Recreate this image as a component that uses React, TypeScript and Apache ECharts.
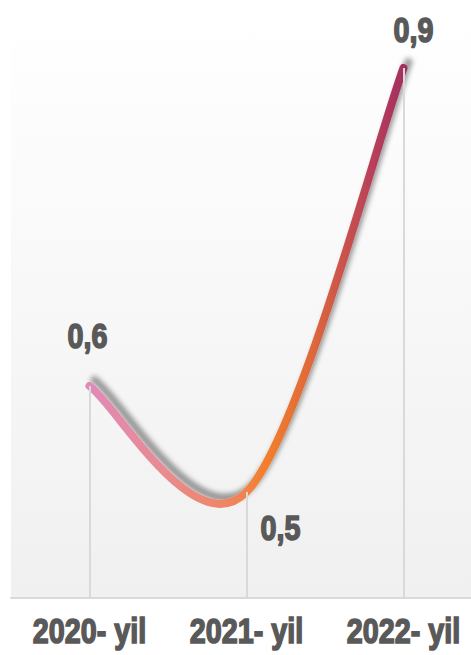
import React, { useEffect, useRef } from "react";
import * as echarts from "echarts";

const categories = ["2020- yil", "2021- yil", "2022- yil"];
const values = [0.6, 0.5, 0.9];
const labelOffsets: [number, number][] = [[-2, -50], [34, 36], [10, -38]];
const yMin = 0.4;
const yMax = 0.95;

export default function App() {
  const ref = useRef<HTMLDivElement>(null);
  useEffect(() => {
    if (!ref.current) return;
    const chart = echarts.init(ref.current, null, { renderer: "svg" });
    const font = "'Liberation Sans', Arial, sans-serif";
    const textColor = "#595959";

    const renderCurve = (params: any, api: any) => {
      if (params.dataIndex !== 0) return null;
      const pts = values.map((v, i) => api.coord([i, v]) as number[]);
      const n = pts.length;
      let d = `M${pts[0][0]},${pts[0][1]}`;
      for (let i = 0; i < n - 1; i++) {
        const p0 = pts[Math.max(i - 1, 0)];
        const p1 = pts[i];
        const p2 = pts[i + 1];
        const p3 = pts[Math.min(i + 2, n - 1)];
        const c1x = p1[0] + (p2[0] - p0[0]) / 6;
        const c1y = p1[1] + (p2[1] - p0[1]) / 6;
        const c2x = p2[0] - (p3[0] - p1[0]) / 6;
        const c2y = p2[1] - (p3[1] - p1[1]) / 6;
        d += ` C${c1x},${c1y} ${c2x},${c2y} ${p2[0]},${p2[1]}`;
      }
      return {
        type: "path",
        shape: { pathData: d },
        style: {
          fill: "none",
          stroke: {
            type: "linear",
            global: true,
            x: pts[0][0],
            y: 0,
            x2: pts[n - 1][0],
            y2: 0,
            colorStops: [
              { offset: 0, color: "#e08ab8" },
              { offset: 0.25, color: "#e98b8e" },
              { offset: 0.45, color: "#ef8560" },
              { offset: 0.56, color: "#f27f2c" },
              { offset: 0.7, color: "#df6a3a" },
              { offset: 0.9, color: "#b8405a" },
              { offset: 1, color: "#a32f5e" },
            ],
          },
          lineWidth: 8,
          lineCap: "round",
          lineJoin: "round",
          shadowColor: "rgba(0,0,0,0.38)",
          shadowBlur: 5,
          shadowOffsetX: 5,
          shadowOffsetY: -6,
        },
      };
    };

    chart.setOption({
      animation: false,
      backgroundColor: "#ffffff",
      grid: {
        left: 11,
        right: 0,
        top: 15,
        bottom: 57,
        show: true,
        borderWidth: 0,
        backgroundColor: {
          type: "linear", x: 0, y: 0, x2: 0, y2: 1,
          colorStops: [
            { offset: 0, color: "#ffffff" },
            { offset: 1, color: "#f0f0f0" },
          ],
        },
      },
      xAxis: {
        type: "category",
        data: categories,
        boundaryGap: true,
        axisLine: { lineStyle: { color: "#d9d9d9", width: 2 } },
        axisTick: { show: false },
        axisLabel: { show: false },
      },
      yAxis: {
        type: "value",
        min: yMin,
        max: yMax,
        show: false,
        splitLine: { show: false },
      },
      series: [
        {
          type: "line",
          data: values,
          symbol: "none",
          lineStyle: { width: 0, opacity: 0 },
          markLine: {
            silent: true,
            symbol: "none",
            label: { show: false },
            lineStyle: { color: "#d9d9d9", width: 2, type: "solid" },
            data: values.map((v, i) => [
              { coord: [i, yMin] },
              { coord: [i, v] },
            ]),
          },
          z: 2,
        },
        {
          type: "custom",
          data: values.map((v, i) => [i, v]),
          renderItem: renderCurve,
          silent: true,
          z: 3,
        },
      ],
    });

    const toPx = (i: number, v: number) =>
      chart.convertToPixel({ xAxisIndex: 0, yAxisIndex: 0 }, [i, v]) as number[];
    const mkText = (text: string, x: number, y: number) => ({
      type: "text",
      x,
      y,
      scaleX: 0.82,
      z: 10,
      silent: true,
      style: {
        text,
        fontFamily: font,
        fontWeight: "bold",
        fontSize: 35,
        fill: textColor,
        stroke: textColor,
        lineWidth: 1.6,
        align: "center",
        verticalAlign: "middle",
      },
    });
    const graphics: any[] = [];
    categories.forEach((c, i) => {
      const [px, py] = toPx(i, yMin);
      graphics.push(mkText(c, px, py + 33));
    });
    values.forEach((v, i) => {
      const [px, py] = toPx(i, v);
      graphics.push(
        mkText(String(v).replace(".", ","), px + labelOffsets[i][0], py + labelOffsets[i][1])
      );
    });
    chart.setOption({ graphic: graphics });

    return () => chart.dispose();
  }, []);
  return (
    <div
      ref={ref}
      style={{ position: "fixed", left: 0, top: 0, width: 482, height: 655 }}
    />
  );
}
